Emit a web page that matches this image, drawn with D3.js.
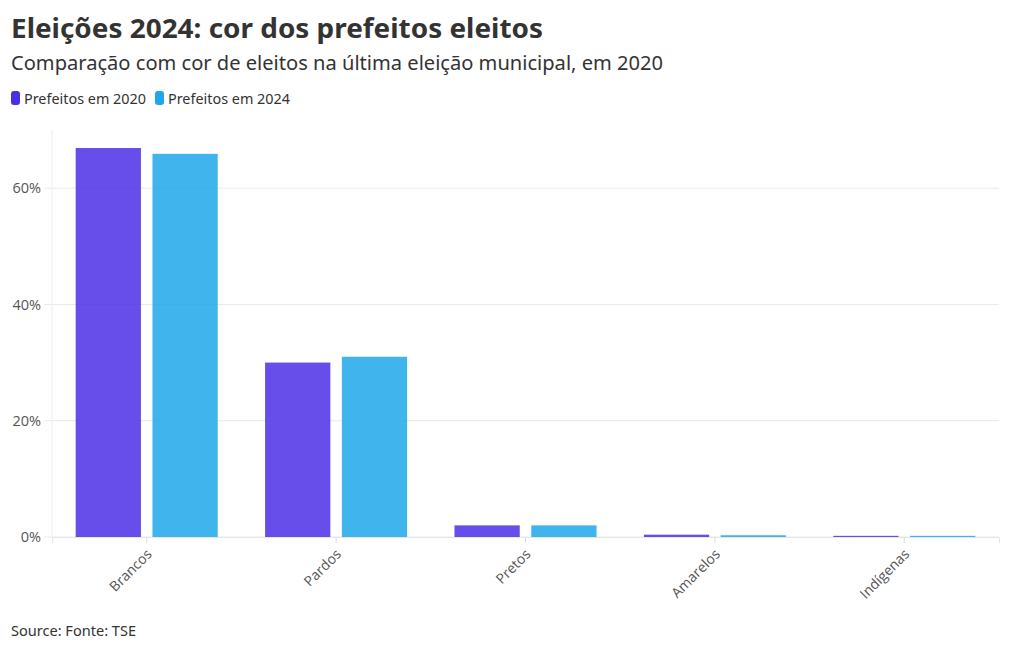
<!DOCTYPE html>
<html>
<head>
<meta charset="utf-8">
<script src="https://cdn.jsdelivr.net/npm/d3@7"></script>
<style>
  body { margin: 0; background: #fff; }
  svg { display: block; }
</style>
</head>
<body>
<svg id="chart" width="1020" height="650"></svg>
<script>
const categories = ["Brancos", "Pardos", "Pretos", "Amarelos", "Indígenas"];
const seriesNames = ["Prefeitos em 2020", "Prefeitos em 2024"];
const values2020 = [66.9, 30.0, 2.0, 0.4, 0.2];
const values2024 = [65.9, 31.0, 2.0, 0.3, 0.2];
const yTicks = [0, 20, 40, 60];
const colors = ["#4c2ee6", "#1ea7ea"];

const titleText = "Eleições 2024: cor dos prefeitos eleitos";
const subtitleText = "Comparação com cor de eleitos na última eleição municipal, em 2020";
const sourceText = "Source: Fonte: TSE";

const svg = d3.select("#chart");
const W = 1020, H = 650;
const m = { left: 52, right: 21, top: 130, bottom: 113 };
const plotW = W - m.left - m.right;
const plotH = H - m.top - m.bottom;

function fitText(sel, target) {
  const w = sel.node().getComputedTextLength();
  if (Math.abs(w - target) > 2) {
    sel.attr("textLength", target).attr("lengthAdjust", "spacingAndGlyphs");
  }
}

const headFont = "'Noto Sans', 'Open Sans', sans-serif";
const title = svg.append("text").attr("x", 11).attr("y", 38)
  .attr("font-family", headFont).attr("font-weight", 700).attr("font-size", 27)
  .attr("fill", "#333").text(titleText);
fitText(title, 532);

const sub = svg.append("text").attr("x", 11).attr("y", 70)
  .attr("font-family", headFont).attr("font-size", 19)
  .attr("fill", "#333").text(subtitleText);
fitText(sub, 652);

// legend
let lx = 11;
seriesNames.forEach((n, i) => {
  svg.append("rect").attr("x", lx).attr("y", 91).attr("width", 9).attr("height", 14)
    .attr("rx", 3).attr("fill", colors[i]);
  const t = svg.append("text").attr("x", lx + 13).attr("y", 104)
    .attr("font-family", headFont).attr("font-size", 13.5).attr("fill", "#333").text(n);
  fitText(t, 122);
  lx += 13 + 122 + 9;
});

const g = svg.append("g").attr("transform", `translate(${m.left},${m.top})`);

const x0 = d3.scaleBand().domain(categories).range([0, plotW]).paddingInner(0.25).paddingOuter(0.125);
const x1 = d3.scaleBand().domain(seriesNames).range([0, x0.bandwidth()]).paddingInner(0.15);
const y = d3.scaleLinear().domain([0, 70]).range([plotH, 0]);

// gridlines
g.append("g").selectAll("line").data(yTicks).join("line")
  .attr("x1", -8).attr("x2", plotW)
  .attr("y1", d => y(d)).attr("y2", d => y(d))
  .attr("stroke", "#e9e9e9").attr("stroke-width", 1);

// y axis line
g.append("line").attr("x1", 0).attr("x2", 0).attr("y1", 0).attr("y2", plotH)
  .attr("stroke", "#ececec");

const yAxis = g.append("g").call(d3.axisLeft(y).tickValues(yTicks).tickFormat(d => d + "%").tickSize(0).tickPadding(11));
yAxis.select(".domain").remove();
yAxis.selectAll("text").attr("font-family", "'Open Sans', sans-serif").attr("font-size", 14.5).attr("fill", "#555");

// bars
const data = categories.map((c, i) => ({ c, vals: [values2020[i], values2024[i]] }));
const grp = g.append("g").selectAll("g").data(data).join("g")
  .attr("transform", d => `translate(${x0(d.c)},0)`);
grp.selectAll("rect").data(d => d.vals.map((v, i) => ({ v, s: seriesNames[i], i })))
  .join("rect")
  .attr("x", d => x1(d.s))
  .attr("width", x1.bandwidth())
  .attr("y", d => y(d.v))
  .attr("height", d => y(0) - y(d.v))
  .attr("fill", d => colors[d.i])
  .attr("fill-opacity", 0.85);

// x axis
const xAxis = g.append("g").attr("transform", `translate(0,${plotH})`)
  .call(d3.axisBottom(x0).tickSize(6).tickPadding(4));
xAxis.select(".domain").attr("stroke", "#e6e6e6");
xAxis.selectAll(".tick line").attr("stroke", "#dcdcdc");
xAxis.selectAll("text")
  .attr("font-family", "'Open Sans', sans-serif").attr("font-size", 14).attr("fill", "#555")
  .attr("text-anchor", "end")
  .attr("x", 0).attr("y", 0).attr("dy", 0)
  .attr("transform", "translate(6,18) rotate(-45)");

const src = svg.append("text").attr("x", 11).attr("y", 636)
  .attr("font-family", headFont).attr("font-size", 14).attr("fill", "#333").text(sourceText);
fitText(src, 125);
</script>
</body>
</html>
